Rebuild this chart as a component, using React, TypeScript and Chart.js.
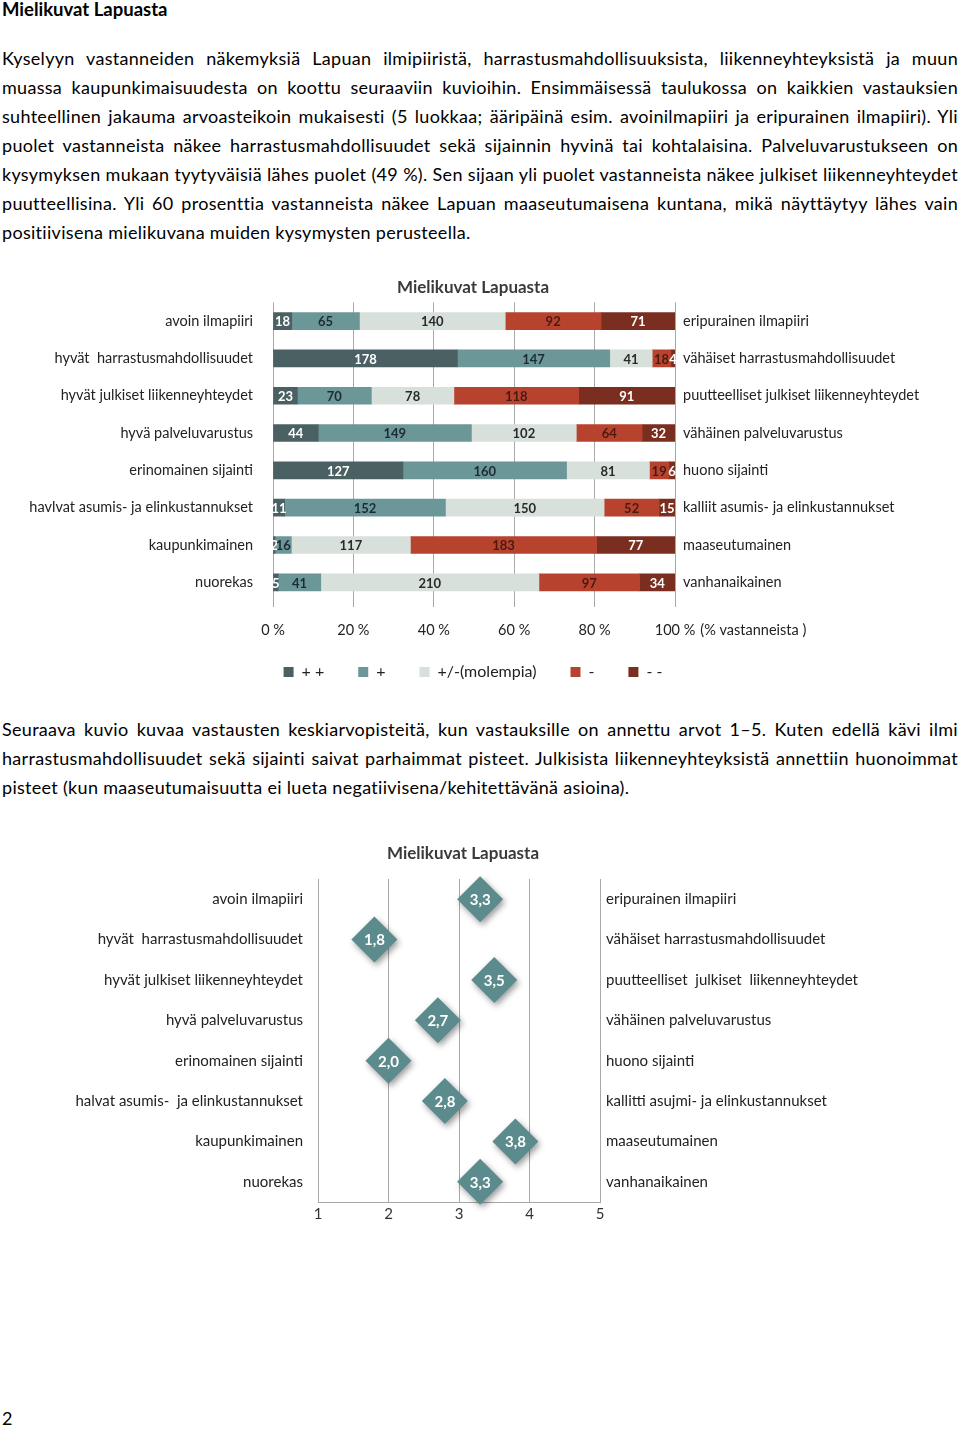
import React, { useEffect, useRef } from 'react';
import { Chart, registerables } from 'chart.js';

Chart.register(...registerables);

const FONT = 'Lato, "Noto Sans", "DejaVu Sans", sans-serif';

// ---------- Page text ----------
const pageTitle = 'Mielikuvat Lapuasta';
const paragraph1 = [
  'Kyselyyn vastanneiden näkemyksiä Lapuan ilmipiiristä, harrastusmahdollisuuksista, liikenneyhteyksistä ja muun',
  'muassa kaupunkimaisuudesta on koottu seuraaviin kuvioihin. Ensimmäisessä taulukossa on kaikkien vastauksien',
  'suhteellinen jakauma arvoasteikoin mukaisesti (5 luokkaa; ääripäinä esim. avoinilmapiiri ja eripurainen ilmapiiri). Yli',
  'puolet vastanneista näkee harrastusmahdollisuudet sekä sijainnin hyvinä tai kohtalaisina. Palveluvarustukseen on',
  'kysymyksen mukaan tyytyväisiä lähes puolet (49 %). Sen sijaan yli puolet vastanneista näkee julkiset liikenneyhteydet',
  'puutteellisina. Yli 60 prosenttia vastanneista näkee Lapuan maaseutumaisena kuntana, mikä näyttäytyy lähes vain',
  'positiivisena mielikuvana muiden kysymysten perusteella.',
];
const paragraph2 = [
  'Seuraava kuvio kuvaa vastausten keskiarvopisteitä, kun vastauksille on annettu arvot 1–5. Kuten edellä kävi ilmi',
  'harrastusmahdollisuudet sekä sijainti saivat parhaimmat pisteet. Julkisista liikenneyhteyksistä annettiin huonoimmat',
  'pisteet (kun maaseutumaisuutta ei lueta negatiivisena/kehitettävänä asioina).',
];
const pageNumber = '2';

// ---------- Chart 1: distribution ----------
const chartTitle = 'Mielikuvat Lapuasta';
const positiveLabels1 = [
  'avoin ilmapiiri',
  'hyvät  harrastusmahdollisuudet',
  'hyvät julkiset liikenneyhteydet',
  'hyvä palveluvarustus',
  'erinomainen sijainti',
  'havlvat asumis- ja elinkustannukset',
  'kaupunkimainen',
  'nuorekas',
];
const negativeLabels1 = [
  'eripurainen ilmapiiri',
  'vähäiset harrastusmahdollisuudet',
  'puutteelliset julkiset liikenneyhteydet',
  'vähäinen palveluvarustus',
  'huono sijainti',
  'kalliit asumis- ja elinkustannukset',
  'maaseutumainen',
  'vanhanaikainen',
];
const seriesNames = ['+ +', '+', '+/-(molempia)', '-', '- -'];
const veryPositive = [18, 178, 23, 44, 127, 11, 2, 5];
const positive = [65, 147, 70, 149, 160, 152, 16, 41];
const neutral = [140, 41, 78, 102, 81, 150, 117, 210];
const negative = [92, 18, 118, 64, 19, 52, 183, 97];
const veryNegative = [71, 4, 91, 32, 6, 15, 77, 34];
const percentTickStep = 20;
const percentAxisNote = '(% vastanneista )';

// ---------- Chart 2: means ----------
const meanLeftLabels = [
  'avoin ilmapiiri',
  'hyvät  harrastusmahdollisuudet',
  'hyvät julkiset liikenneyhteydet',
  'hyvä palveluvarustus',
  'erinomainen sijainti',
  'halvat asumis-  ja elinkustannukset',
  'kaupunkimainen',
  'nuorekas',
];
const meanRightLabels = [
  'eripurainen ilmapiiri',
  'vähäiset harrastusmahdollisuudet',
  'puutteelliset  julkiset  liikenneyhteydet',
  'vähäinen palveluvarustus',
  'huono sijainti',
  'kallitti asujmi- ja elinkustannukset',
  'maaseutumainen',
  'vanhanaikainen',
];
const meanScores = [3.3, 1.8, 3.5, 2.7, 2.0, 2.8, 3.8, 3.3];
const scoreMin = 1;
const scoreMax = 5;

const barColors = ['#4a6062', '#6b9799', '#d7e0da', '#b7432e', '#7a2e1f'];
const labelColors = ['#ffffff', '#1e2a36', '#2a2a2a', '#4a1a10', '#ffffff'];
const gridColor = '#a8a8a8';
const axisTextColor = '#222222';

function DistributionChart() {
  const ref = useRef<HTMLCanvasElement | null>(null);
  useEffect(() => {
    if (!ref.current) return;
    const counts = [veryPositive, positive, neutral, negative, veryNegative];
    const totals = positiveLabels1.map((_, i) => counts.reduce((s, a) => s + a[i], 0));
    const tickFont = { family: FONT, size: 14.5 };

    const labelPlugin = {
      id: 'barCounts',
      afterDatasetsDraw(chart: any) {
        const ctx = chart.ctx;
        ctx.save();
        ctx.font = `bold 13px ${FONT}`;
        ctx.textAlign = 'center';
        ctx.textBaseline = 'middle';
        counts.forEach((arr, k) => {
          const meta = chart.getDatasetMeta(k);
          ctx.fillStyle = labelColors[k];
          meta.data.forEach((el: any, i: number) => {
            const p = el.getProps(['x', 'base', 'y'], true);
            ctx.fillText(String(arr[i]), (p.x + p.base) / 2, p.y + 1);
          });
        });
        ctx.restore();
      },
      afterDraw(chart: any) {
        // axis note after the "100 %" tick label
        const ctx = chart.ctx;
        const xs = chart.scales.x;
        const items = xs.getLabelItems();
        const last = items[items.length - 1];
        if (!last) return;
        ctx.save();
        const [lx, ly] = last.options.translation;
        ctx.font = `${tickFont.size}px ${FONT}`;
        const w = ctx.measureText(last.label).width;
        ctx.fillStyle = axisTextColor;
        ctx.textAlign = 'left';
        ctx.textBaseline = last.options.textBaseline;
        ctx.fillText(percentAxisNote, lx + w / 2 + 5, ly + last.textOffset);
        ctx.restore();
      },
    };

    const chart = new Chart(ref.current, {
      type: 'bar',
      data: {
        labels: positiveLabels1,
        datasets: counts.map((arr, k) => ({
          label: seriesNames[k],
          data: arr.map((v, i) => (v / totals[i]) * 100),
          backgroundColor: barColors[k],
          borderWidth: 0,
          barThickness: 17,
          stack: 'all',
        })),
      },
      options: {
        indexAxis: 'y',
        animation: false,
        responsive: false,
        layout: { padding: { left: 0, right: 14, top: 0, bottom: 0 } },
        scales: {
          x: {
            type: 'linear',
            min: 0,
            max: 100,
            stacked: true,
            ticks: {
              stepSize: percentTickStep,
              callback: (v: any) => `${v} %`,
              padding: 15,
              font: tickFont,
              color: axisTextColor,
            },
            grid: { color: gridColor, tickLength: 6, drawTicks: true },
            border: { display: false },
            afterFit: (s: any) => {
              s.height = 53;
            },
          },
          y: {
            type: 'category',
            stacked: true,
            position: 'left',
            grid: { display: false, drawTicks: false },
            border: { display: false },
            ticks: { padding: 20, font: tickFont, color: axisTextColor },
            afterFit: (s: any) => {
              s.width = 273;
            },
          },
          y2: {
            type: 'category',
            labels: negativeLabels1,
            position: 'right',
            offset: true,
            grid: { display: false, drawTicks: false },
            border: { display: false },
            ticks: { padding: 8, font: tickFont, color: axisTextColor },
            afterFit: (s: any) => {
              s.width = 271;
            },
          },
        },
        plugins: {
          title: {
            display: true,
            text: chartTitle,
            font: { family: FONT, size: 17, weight: 'bold' },
            color: '#3a3a3a',
            padding: { top: 7, bottom: 5 },
          },
          legend: {
            position: 'bottom',
            labels: {
              boxWidth: 10,
              boxHeight: 10,
              padding: 10,
              font: { family: FONT, size: 16 },
              color: axisTextColor,
              generateLabels: (c: any) => {
                const items = Chart.defaults.plugins.legend.labels.generateLabels(c);
                return items.map((it: any, i: number) => ({
                  ...it,
                  text: i < items.length - 1 ? it.text + '\u2003\u2003' : it.text,
                }));
              },
            },
          },
          tooltip: { enabled: false },
        },
      } as any,
      plugins: [labelPlugin],
    });
    return () => chart.destroy();
  }, []);
  return (
    <canvas
      ref={ref}
      width={960}
      height={420}
      style={{ position: 'absolute', left: 0, top: 270, width: 960, height: 420 }}
    />
  );
}

function MeanChart() {
  const ref = useRef<HTMLCanvasElement | null>(null);
  useEffect(() => {
    if (!ref.current) return;
    const tickFont = { family: FONT, size: 15 };
    const plugin = {
      id: 'diamondLabels',
      beforeDatasetsDraw(chart: any) {
        const ctx = chart.ctx;
        ctx.save();
        ctx.shadowColor = 'rgba(0,0,0,0.4)';
        ctx.shadowBlur = 6;
        ctx.shadowOffsetX = 2;
        ctx.shadowOffsetY = 3;
      },
      afterDatasetsDraw(chart: any) {
        const ctx = chart.ctx;
        ctx.restore();
        ctx.save();
        ctx.font = `bold 15px ${FONT}`;
        ctx.fillStyle = '#ffffff';
        ctx.textAlign = 'center';
        ctx.textBaseline = 'middle';
        const meta = chart.getDatasetMeta(0);
        meta.data.forEach((el: any, i: number) => {
          const p = el.getProps(['x', 'y'], true);
          ctx.fillText(meanScores[i].toFixed(1).replace('.', ','), p.x, p.y + 1);
        });
        ctx.restore();
      },
    };
    const chart = new Chart(ref.current, {
      type: 'line',
      data: {
        labels: meanLeftLabels,
        datasets: [
          {
            label: 'keskiarvo',
            data: meanScores,
            showLine: false,
            pointStyle: 'rectRot',
            pointRadius: 23,
            pointBackgroundColor: '#5c8b8d',
            pointBorderColor: '#5c8b8d',
            pointBorderWidth: 0,
          },
        ],
      },
      options: {
        indexAxis: 'y',
        animation: false,
        responsive: false,
        layout: { padding: { left: 0, right: 34, top: 0, bottom: 0 } },
        scales: {
          x: {
            type: 'linear',
            min: scoreMin,
            max: scoreMax,
            ticks: { stepSize: 1, padding: 3, font: tickFont, color: '#333' },
            grid: { color: gridColor, drawTicks: false },
            border: { display: true, color: gridColor },
            afterFit: (s: any) => {
              s.height = 33;
            },
          },
          y: {
            type: 'category',
            position: 'left',
            offset: true,
            grid: { display: false, drawTicks: false },
            border: { display: false },
            ticks: { padding: 15, font: tickFont, color: axisTextColor },
            afterFit: (s: any) => {
              s.width = 318;
            },
          },
          y2: {
            type: 'category',
            labels: meanRightLabels,
            position: 'right',
            offset: true,
            grid: { display: false, drawTicks: false },
            border: { display: false },
            ticks: { padding: 6, font: tickFont, color: axisTextColor },
            afterFit: (s: any) => {
              s.width = 326;
            },
          },
        },
        plugins: {
          title: {
            display: true,
            text: chartTitle,
            font: { family: FONT, size: 17, weight: 'bold' },
            color: '#3a3a3a',
            padding: { top: 8, bottom: 15.6 },
          },
          legend: { display: false },
          tooltip: { enabled: false },
        },
      } as any,
      plugins: [plugin],
    });
    return () => chart.destroy();
  }, []);
  return (
    <canvas
      ref={ref}
      width={960}
      height={400}
      style={{ position: 'absolute', left: 0, top: 835, width: 960, height: 400 }}
    />
  );
}

function Line({ text, top, last }: { text: string; top: number; last: boolean }) {
  return (
    <div
      style={{
        position: 'absolute',
        left: 2,
        width: 956,
        top,
        height: 29,
        lineHeight: '29px',
        fontSize: 18,
        letterSpacing: '0.3px',
        whiteSpace: 'nowrap',
        textAlign: last ? 'left' : 'justify',
        textAlignLast: last ? 'left' : 'justify',
      } as any}
    >
      {text}
    </div>
  );
}

export default function App() {
  return (
    <div
      style={{
        position: 'absolute',
        left: 0,
        top: 0,
        width: 960,
        height: 1429,
        background: '#ffffff',
        color: '#000',
        fontFamily: FONT,
        overflow: 'hidden',
      }}
    >
      <div style={{ position: 'absolute', left: 2, top: 0, fontSize: 18.5, lineHeight: '18px', fontWeight: 700 }}>
        {pageTitle}
      </div>
      {paragraph1.map((t, i) => (
        <Line key={'a' + i} text={t} top={43.5 + i * 29} last={i === paragraph1.length - 1} />
      ))}
      <DistributionChart />
      {paragraph2.map((t, i) => (
        <Line key={'b' + i} text={t} top={714.5 + i * 29} last={i === paragraph2.length - 1} />
      ))}
      <MeanChart />
      <div style={{ position: 'absolute', left: 2, top: 1408, fontSize: 18, lineHeight: '20px' }}>{pageNumber}</div>
    </div>
  );
}
